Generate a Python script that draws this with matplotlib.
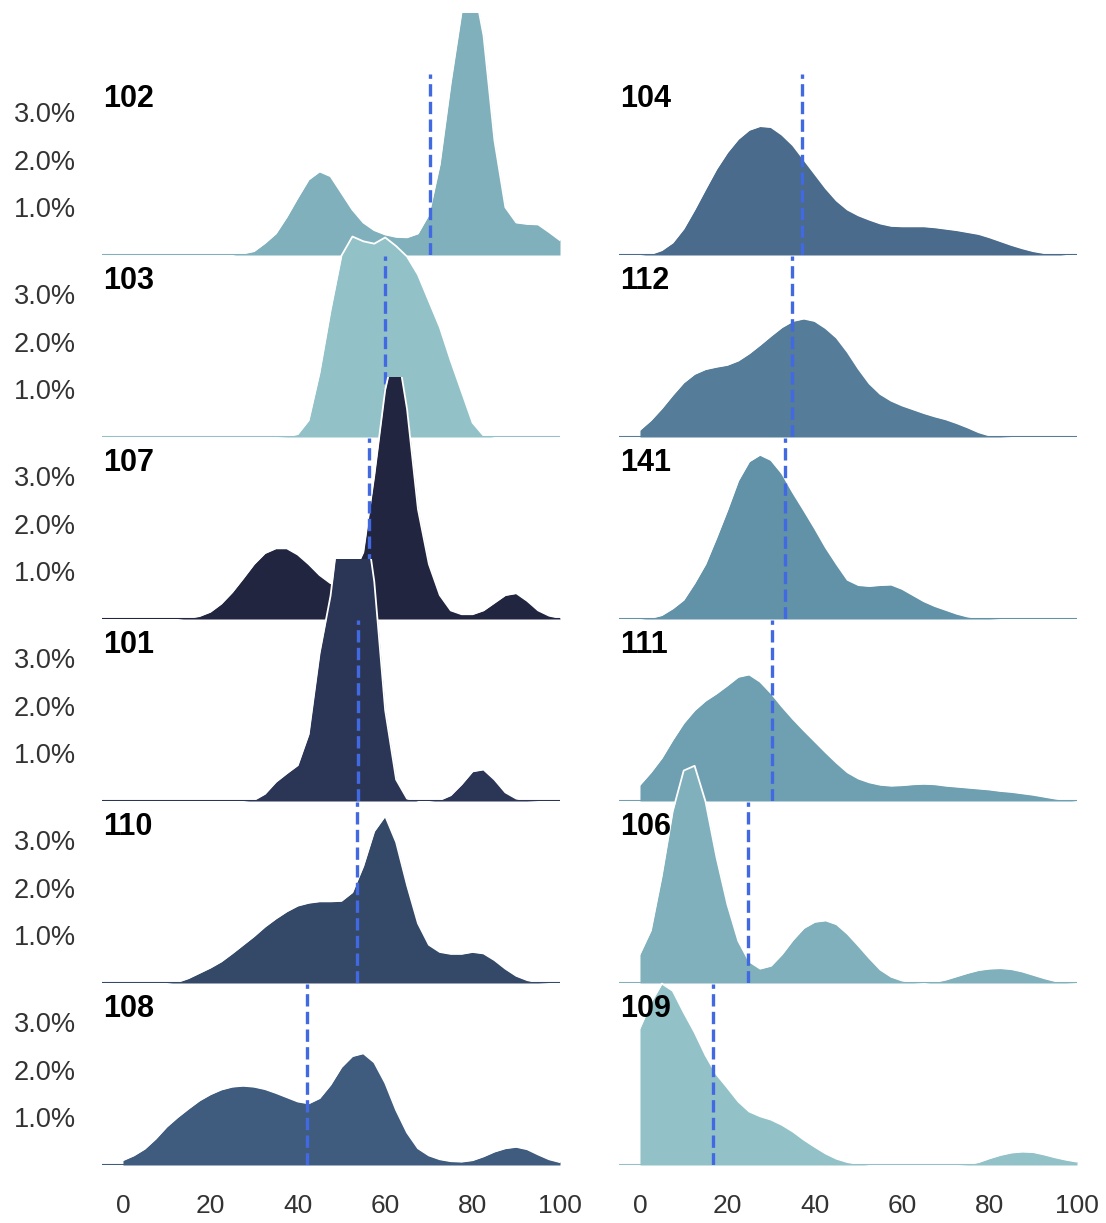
import matplotlib
matplotlib.use("Agg")
import matplotlib.pyplot as plt
from matplotlib.ticker import FormatStrFormatter

plt.rcParams['font.family'] = ['Liberation Sans', 'DejaVu Sans']

score = [0, 2.5, 5, 7.5, 10, 12.5, 15, 17.5, 20, 22.5,
         25, 27.5, 30, 32.5, 35, 37.5, 40, 42.5, 45, 47.5,
         50, 52.5, 55, 57.5, 60, 62.5, 65, 67.5, 70, 72.5,
         75, 77.5, 80, 82.5, 85, 87.5, 90, 92.5, 95, 97.5, 100]

# density in percent, one value per score point
dens_102 = [0, 0, 0, 0, 0, 0, 0, 0, 0, 0,
            0, 0.03, 0.08, 0.25, 0.45, 0.8, 1.2, 1.58, 1.75, 1.65,
            1.3, 0.95, 0.68, 0.52, 0.43, 0.38, 0.37, 0.45, 0.85, 1.9,
            3.6, 5.1, 5.8, 4.6, 2.4, 1.0, 0.68, 0.65, 0.64, 0.48, 0.31]
dens_103 = [0, 0, 0, 0, 0, 0, 0, 0, 0, 0,
            0, 0, 0, 0, 0, 0.01, 0.06, 0.35, 1.35, 2.65,
            3.8, 4.2, 4.1, 4.05, 4.18, 4.0, 3.78, 3.4, 2.85, 2.3,
            1.6, 0.95, 0.3, 0.03, 0, 0, 0, 0, 0, 0, 0]
dens_107 = [0, 0, 0, 0, 0, 0, 0.02, 0.06, 0.15, 0.32,
            0.56, 0.85, 1.15, 1.38, 1.48, 1.48, 1.35, 1.15, 0.92, 0.75,
            0.72, 0.9, 1.4, 3.0, 4.8, 5.8, 4.4, 2.3, 1.15, 0.5,
            0.18, 0.1, 0.1, 0.18, 0.34, 0.5, 0.54, 0.38, 0.18, 0.07, 0.02]
dens_101 = [0, 0, 0, 0, 0, 0, 0, 0, 0, 0,
            0, 0, 0.02, 0.15, 0.4, 0.58, 0.75, 1.4, 3.1, 4.3,
            6.2, 6.8, 6.2, 4.6, 1.9, 0.45, 0.05, 0, 0, 0.02,
            0.12, 0.35, 0.62, 0.66, 0.45, 0.18, 0.05, 0.01, 0, 0, 0]
dens_110 = [0, 0, 0, 0, 0, 0.02, 0.1, 0.21, 0.32, 0.45,
            0.62, 0.8, 0.98, 1.18, 1.35, 1.5, 1.62, 1.68, 1.71, 1.71,
            1.72, 1.9, 2.45, 3.18, 3.5, 2.95, 2.05, 1.25, 0.8, 0.65,
            0.61, 0.61, 0.65, 0.62, 0.48, 0.3, 0.15, 0.06, 0.01, 0, 0]
dens_108 = [0.1, 0.2, 0.34, 0.55, 0.8, 1.0, 1.18, 1.35, 1.48, 1.58,
            1.64, 1.66, 1.64, 1.59, 1.51, 1.42, 1.33, 1.29, 1.4, 1.68,
            2.05, 2.28, 2.34, 2.15, 1.72, 1.15, 0.68, 0.35, 0.2, 0.12,
            0.08, 0.07, 0.1, 0.18, 0.28, 0.35, 0.38, 0.33, 0.22, 0.12, 0.06]
dens_104 = [0, 0.02, 0.1, 0.26, 0.55, 0.95, 1.38, 1.8, 2.15, 2.43,
            2.62, 2.7, 2.68, 2.52, 2.3, 2.0, 1.7, 1.4, 1.14, 0.95,
            0.83, 0.74, 0.66, 0.61, 0.6, 0.6, 0.6, 0.58, 0.55, 0.52,
            0.48, 0.44, 0.37, 0.29, 0.21, 0.14, 0.08, 0.04, 0.02, 0, 0]
dens_112 = [0.15, 0.35, 0.6, 0.88, 1.14, 1.32, 1.42, 1.47, 1.51, 1.6,
            1.75, 1.93, 2.12, 2.3, 2.43, 2.48, 2.43, 2.28, 2.08, 1.78,
            1.43, 1.12, 0.9, 0.76, 0.66, 0.58, 0.5, 0.43, 0.37, 0.29,
            0.2, 0.1, 0.03, 0.01, 0, 0, 0, 0, 0, 0, 0]
dens_141 = [0, 0.02, 0.08, 0.22, 0.4, 0.75, 1.15, 1.7, 2.28, 2.9,
            3.3, 3.44, 3.33, 3.05, 2.65, 2.28, 1.9, 1.5, 1.15, 0.82,
            0.71, 0.69, 0.71, 0.72, 0.63, 0.5, 0.37, 0.27, 0.19, 0.11,
            0.05, 0.02, 0.01, 0, 0, 0, 0, 0, 0, 0, 0]
dens_111 = [0.34, 0.6, 0.9, 1.28, 1.63, 1.9, 2.1, 2.25, 2.42, 2.6,
            2.65, 2.5, 2.26, 1.98, 1.72, 1.48, 1.25, 1.02, 0.8, 0.6,
            0.47, 0.39, 0.34, 0.32, 0.33, 0.35, 0.36, 0.35, 0.32, 0.3,
            0.28, 0.26, 0.24, 0.21, 0.19, 0.16, 0.13, 0.09, 0.05, 0.02, 0]
dens_106 = [0.61, 1.1, 2.25, 3.6, 4.45, 4.55, 3.8, 2.64, 1.65, 0.88,
            0.45, 0.3, 0.36, 0.6, 0.9, 1.15, 1.28, 1.31, 1.23, 1.03,
            0.78, 0.52, 0.28, 0.13, 0.05, 0.01, 0, 0.02, 0.07, 0.14,
            0.21, 0.27, 0.3, 0.31, 0.29, 0.24, 0.17, 0.1, 0.04, 0.01, 0]
dens_109 = [2.87, 3.4, 3.8, 3.65, 3.2, 2.78, 2.3, 1.9, 1.62, 1.33,
            1.12, 1.02, 0.95, 0.84, 0.7, 0.53, 0.38, 0.24, 0.13, 0.06,
            0.02, 0, 0, 0, 0, 0, 0, 0, 0, 0,
            0.01, 0.06, 0.14, 0.21, 0.26, 0.28, 0.27, 0.22, 0.16, 0.11, 0.07]

left_ids = ['102', '103', '107', '101', '110', '108']
left_density = [dens_102, dens_103, dens_107, dens_101, dens_110, dens_108]
left_means = [70.2, 60.0, 56.2, 53.8, 53.6, 42.2]
left_colors = ['#7fb0bb', '#92c2c7', '#21253f', '#2b3657', '#344868', '#3f5b7e']

right_ids = ['104', '112', '141', '111', '106', '109']
right_density = [dens_104, dens_112, dens_141, dens_111, dens_106, dens_109]
right_means = [37.1, 34.7, 33.2, 30.3, 24.7, 16.7]
right_colors = ['#4a6b8b', '#557c98', '#6192a8', '#6fa0b2', '#7fb0bb', '#92c2c7']

W, H = 1106, 1223
fig = plt.figure(figsize=(W / 100, H / 100), dpi=100)

columns = [(left_ids, left_density, left_means, left_colors, 102),
           (right_ids, right_density, right_means, right_colors, 619)]

for c, (ids, dens, means, colors, x0) in enumerate(columns):
    for r in range(6):
        base = 255 + 182 * r
        ax = fig.add_axes([x0 / W, 1 - base / H, 458 / W, 242 / H])
        ax.patch.set_visible(False)
        col = colors[r]
        ax.fill_between(score, dens[r], color=col, lw=0, zorder=1)
        ax.plot(score, dens[r], color='white', lw=1.3, zorder=2,
                solid_joinstyle='round')
        ax.axhline(0, color=col, lw=1.5, zorder=3)
        ax.axvline(means[r], ymax=0.75, color='#4169e1', lw=2.4, ls='--', zorder=4)
        ax.text(-4.6, 0.61, ids[r], transform=ax.get_xaxis_transform(),
                fontsize=22, fontweight='bold', va='baseline', ha='left', zorder=5)
        ax.set_xlim(-4.8, 100)
        ax.set_ylim(0, 5.07)
        for s in ax.spines.values():
            s.set_visible(False)
        if c == 0:
            ax.set_yticks([1, 2, 3])
            ax.yaxis.set_major_formatter(FormatStrFormatter('%.1f%%'))
            ax.tick_params(axis='y', length=0, pad=19, labelsize=19.5, labelcolor='#333333')
        else:
            ax.set_yticks([])
        if r == 5:
            ax.set_xticks([0, 20, 40, 60, 80, 100])
            ax.tick_params(axis='x', length=0, pad=21, labelsize=19, labelcolor='#333333')
        else:
            ax.set_xticks([])

fig.savefig('out.png', dpi=100)
